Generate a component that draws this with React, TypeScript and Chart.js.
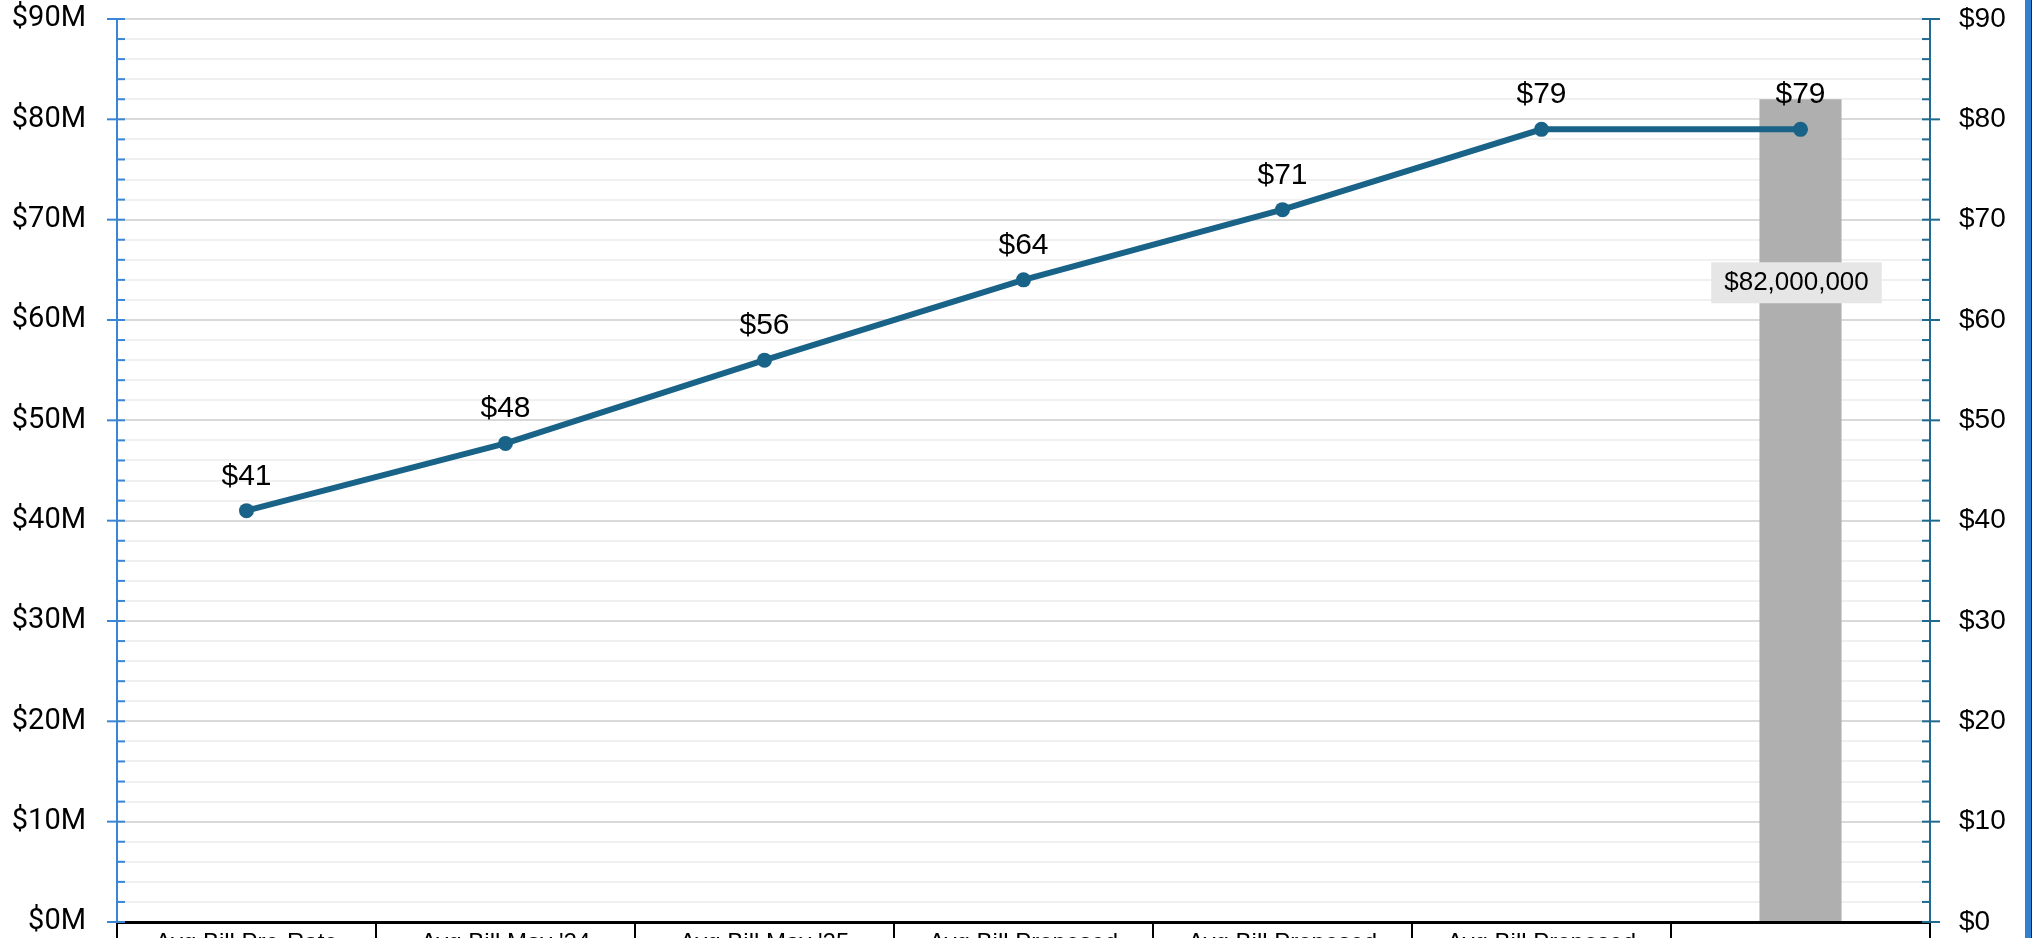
import React, { useEffect, useRef } from 'react';
import { Chart, registerables } from 'chart.js';

Chart.register(...registerables);

// ---- data ----
const categories = [
  'Avg Bill Pre-Rate',
  "Avg Bill May '24",
  "Avg Bill May '25",
  'Avg Bill Proposed',
  'Avg Bill Proposed',
  'Avg Bill Proposed',
  '',
];
const avgBill = [41, 47.7, 56, 64, 71, 79, 79];
const revenue = [null, null, null, null, null, null, 82000000];

const leftMax = 90000000;
const leftStep = 2000000;
const leftMajor = 10000000;
const rightMax = 90;
const rightStep = 2;
const rightMajor = 10;

// ---- styles ----
const LINE_COLOR = '#1a6388';
const BAR_COLOR = '#afafaf';
const LEFT_AXIS_COLOR = '#3a86d6';
const RIGHT_AXIS_COLOR = '#1f6a91';
const MAJOR_GRID = '#d9d9d9';
const MINOR_GRID = '#f0f0f0';

const axisDecor = {
  id: 'axisDecor',
  afterDatasetsDraw(chart: any) {
    const ctx = chart.ctx;
    const { left, right, top, bottom } = chart.chartArea;
    const y = chart.scales.y;
    const y2 = chart.scales.y2;
    ctx.save();
    ctx.lineWidth = 2;
    const seg = (x1: number, y1: number, x2: number, yb: number) => {
      ctx.beginPath();
      ctx.moveTo(x1, y1);
      ctx.lineTo(x2, yb);
      ctx.stroke();
    };
    // left axis
    ctx.strokeStyle = LEFT_AXIS_COLOR;
    seg(left, top, left, bottom);
    y.ticks.forEach((t: any) => {
      const py = y.getPixelForValue(t.value);
      const major = Math.round(t.value) % leftMajor === 0;
      seg(major ? left - 10 : left, py, left + 8, py);
    });
    // right axis
    ctx.strokeStyle = RIGHT_AXIS_COLOR;
    seg(right, top, right, bottom);
    y2.ticks.forEach((t: any) => {
      const py = y2.getPixelForValue(t.value);
      const major = Math.round(t.value) % rightMajor === 0;
      seg(right - 8, py, major ? right + 10 : right, py);
    });
    ctx.restore();
  },
};

const valueLabels = {
  id: 'valueLabels',
  afterDatasetsDraw(chart: any) {
    const ctx = chart.ctx;
    ctx.save();
    // bar label
    const barMeta = chart.getDatasetMeta(0);
    barMeta.data.forEach((b: any, i: number) => {
      const v = revenue[i];
      if (v == null) return;
      const text = '$' + v.toLocaleString('en-US');
      ctx.font = '26px "Liberation Sans", Arial, sans-serif';
      const w = ctx.measureText(text).width;
      const cx = b.x - 4;
      const cy = b.y + 183;
      ctx.fillStyle = '#e6e6e6';
      ctx.fillRect(cx - w / 2 - 13, cy - 20, w + 26, 41);
      ctx.fillStyle = '#000';
      ctx.textAlign = 'center';
      ctx.textBaseline = 'middle';
      ctx.fillText(text, cx, cy + 1);
    });
    // line labels
    const lineMeta = chart.getDatasetMeta(1);
    ctx.font = '30px "Liberation Sans", Arial, sans-serif';
    ctx.fillStyle = '#000';
    ctx.textAlign = 'center';
    ctx.textBaseline = 'alphabetic';
    lineMeta.data.forEach((pt: any, i: number) => {
      ctx.fillText('$' + Math.round(avgBill[i]), pt.x, pt.y - 26);
    });
    ctx.restore();
  },
};

export default function App() {
  const ref = useRef<HTMLCanvasElement | null>(null);

  useEffect(() => {
    if (!ref.current) return;
    const chart = new Chart(ref.current, {
      type: 'bar',
      data: {
        labels: categories,
        datasets: [
          {
            type: 'bar',
            label: 'Revenue',
            data: revenue as any,
            yAxisID: 'y',
            backgroundColor: BAR_COLOR,
            categoryPercentage: 1,
            barPercentage: 0.317,
            order: 2,
          },
          {
            type: 'line',
            label: 'Avg Bill',
            data: avgBill,
            yAxisID: 'y2',
            borderColor: LINE_COLOR,
            backgroundColor: LINE_COLOR,
            borderWidth: 6,
            pointRadius: 7.5,
            pointBorderWidth: 0,
            pointBackgroundColor: LINE_COLOR,
            tension: 0,
            order: 1,
          } as any,
        ],
      },
      options: {
        responsive: false,
        animation: false,
        devicePixelRatio: 1,
        layout: { padding: { top: 19, left: 0, right: 0, bottom: 0 }, autoPadding: false } as any,
        plugins: {
          legend: { display: false },
          tooltip: { enabled: false },
        },
        scales: {
          x: {
            type: 'category',
            offset: true,
            grid: {
              offset: true,
              drawOnChartArea: false,
              drawTicks: true,
              tickLength: 60,
              color: '#000',
              lineWidth: 2,
            },
            border: { display: true, color: '#000', width: 3 },
            ticks: {
              padding: -53,
              color: '#000',
              autoSkip: false,
              maxRotation: 0,
              font: { size: 24, family: '"Liberation Sans", Arial, sans-serif' },
            },
            afterFit: (s: any) => {
              s.height = 78;
              s.paddingLeft = 0;
              s.paddingRight = 0;
            },
          },
          y: {
            type: 'linear',
            position: 'left',
            min: 0,
            max: leftMax,
            grid: {
              drawTicks: false,
              lineWidth: 2,
              color: (c: any) =>
                c.tick && Math.round(c.tick.value) % leftMajor === 0 ? MAJOR_GRID : MINOR_GRID,
            },
            border: { display: false },
            ticks: {
              stepSize: leftStep,
              maxTicksLimit: 100,
              autoSkip: false,
              padding: 31,
              color: '#000',
              font: { size: 29, family: 'Roboto, "Liberation Sans", sans-serif' },
              callback: (v: any) =>
                Math.round(v) % leftMajor === 0 ? '$' + Math.round(v / 1000000) + 'M' : '',
            },
            afterFit: (s: any) => {
              s.width = 117;
              s.paddingTop = 0;
              s.paddingBottom = 0;
            },
          },
          y2: {
            type: 'linear',
            position: 'right',
            min: 0,
            max: rightMax,
            grid: { drawOnChartArea: false, drawTicks: false },
            border: { display: false },
            ticks: {
              stepSize: rightStep,
              maxTicksLimit: 100,
              autoSkip: false,
              padding: 29,
              color: '#000',
              font: { size: 28, family: '"Liberation Sans", Arial, sans-serif' },
              callback: (v: any) => (Math.round(v) % rightMajor === 0 ? '$' + Math.round(v) : ''),
            },
            afterFit: (s: any) => {
              s.width = 107;
              s.paddingTop = 0;
              s.paddingBottom = 0;
            },
          },
        },
      },
      plugins: [axisDecor, valueLabels],
    } as any);
    return () => chart.destroy();
  }, []);

  return (
    <div
      style={{
        position: 'fixed',
        left: 0,
        top: 0,
        width: 2037,
        height: 938,
        overflow: 'hidden',
        background: '#fff',
      }}
    >
      <canvas ref={ref} width={2037} height={1000} style={{ display: 'block', width: 2037, height: 1000 }} />
      <div
        style={{
          position: 'absolute',
          left: 2025,
          top: 0,
          width: 6,
          height: 938,
          background: '#3280d2',
          borderRight: '1px solid #222',
        }}
      />
    </div>
  );
}
